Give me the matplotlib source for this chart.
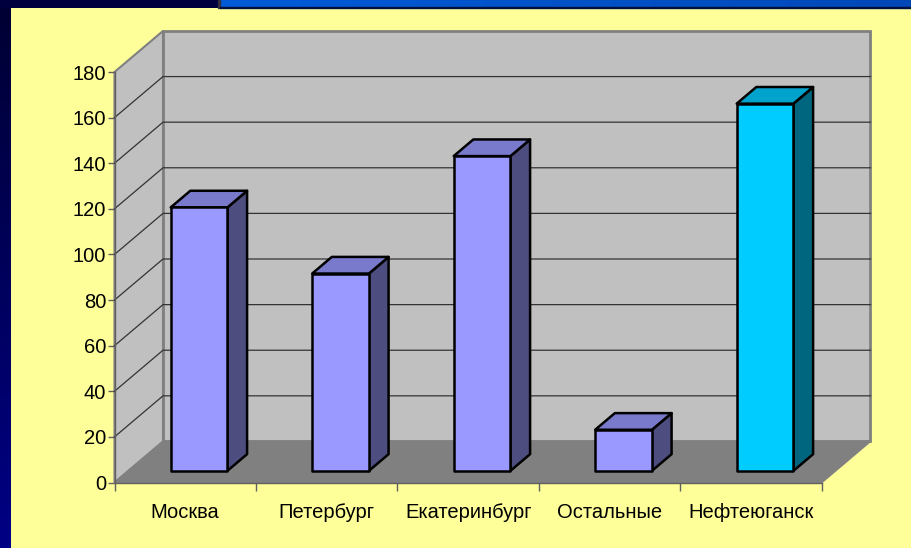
import numpy as np
import matplotlib.pyplot as plt
from matplotlib.patches import Polygon, Rectangle

plt.rcParams['font.family'] = ['Liberation Sans', 'DejaVu Sans']

cities = ['Москва', 'Петербург', 'Екатеринбург', 'Остальные', 'Нефтеюганск']
values = [115.5, 86.5, 138, 18, 161]
yticks = [0, 20, 40, 60, 80, 100, 120, 140, 160, 180]

front = ['#9999FF', '#9999FF', '#9999FF', '#9999FF', '#00CCFF']
top = ['#7A7ACC', '#7A7ACC', '#7A7ACC', '#7A7ACC', '#00A3CC']
side = ['#4D4D80', '#4D4D80', '#4D4D80', '#4D4D80', '#006680']

W, H = 911, 548
fig = plt.figure(figsize=(W / 100, H / 100), dpi=100, facecolor='#FFFF99')

# slide background behind the yellow panel
bg = fig.add_axes([0, 0, 1, 1], zorder=0)
bg.axis('off')
grad = np.linspace(0, 1, 256).reshape(-1, 1)
navy = np.dstack([0 * grad, 0 * grad, (0.2 + 0.32 * grad)])
bg.imshow(navy, extent=[0, 11, H, 0], aspect='auto')
bg.imshow(np.array([[[0, 0, 0.25]]]), extent=[0, 219, 8, 0], aspect='auto')
blue = np.linspace(0, 1, 256).reshape(1, -1)
blue = np.dstack([0 * blue, 0.36 - 0.08 * blue, 0.85 - 0.13 * blue])
bg.imshow(blue, extent=[220, W, 7, 0], aspect='auto')
bg.add_patch(Rectangle((218, 0), 2, 8, color='#303040'))
bg.add_patch(Rectangle((220, 7), W - 220, 1, color='#001040'))
bg.set_xlim(0, W)
bg.set_ylim(H, 0)

ax = fig.add_axes([114.5 / W, (H - 482.5) / H, 707.5 / W, 410.5 / H], zorder=1)
ax.patch.set_alpha(0)
ax.set_xlim(0, 5)
ax.set_ylim(0, 180)

# depth of the 3D box, in data units
dx = 48.5 / 141.5
dy = 18.0


def shift(x, y, d):
    return (x + dx * d, y + dy * d)


def poly(pts, **kw):
    p = Polygon(pts, clip_on=False, **kw)
    ax.add_patch(p)


wall = '#C0C0C0'
edge = '#808080'
poly([(0, 0), (0, 180), shift(0, 180, 1), shift(0, 0, 1)], fc=wall, ec=edge, lw=1.5, zorder=1)
poly([shift(0, 0, 1), shift(0, 180, 1), shift(5, 180, 1), shift(5, 0, 1)], fc=wall, ec=edge, lw=2, zorder=1)
poly([(0, 0), (5, 0), shift(5, 0, 1), shift(0, 0, 1)], fc='#808080', ec='#808080', lw=1, zorder=2)

for v in yticks[1:-1]:
    a = shift(0, v, 0)
    b = shift(0, v, 1)
    c = shift(5, v, 1)
    ax.plot([a[0], b[0], c[0]], [a[1], b[1], c[1]], color='#333333', lw=0.9, zorder=2, clip_on=False)

# bars, front face at depth d0, back at d1
d0, d1 = 0.285, 0.69
bw = 0.401
for i, v in enumerate(values):
    x0 = i + 0.5 - bw / 2
    x1 = i + 0.5 + bw / 2
    kw = dict(ec='black', lw=1.8, joinstyle='round', zorder=3)
    poly([shift(x1, 0, d0), shift(x1, 0, d1), shift(x1, v, d1), shift(x1, v, d0)], fc=side[i], **kw)
    poly([shift(x0, v, d0), shift(x1, v, d0), shift(x1, v, d1), shift(x0, v, d1)], fc=top[i], **kw)
    poly([shift(x0, 0, d0), shift(x1, 0, d0), shift(x1, v, d0), shift(x0, v, d0)], fc=front[i], **kw)

for s in ['top', 'right']:
    ax.spines[s].set_visible(False)
for s in ['left', 'bottom']:
    ax.spines[s].set_color('#606060')
    ax.spines[s].set_linewidth(1)
    ax.spines[s].set_zorder(4)

ax.set_yticks(yticks)
ax.tick_params(axis='y', length=5, width=1, color='#606060', labelsize=14.5, pad=1)
ax.set_xticks(range(6))
ax.set_xticklabels([])
ax.tick_params(axis='x', which='major', length=6, width=1, color='#606060')
ax.set_xticks(np.arange(5) + 0.5, minor=True)
ax.set_xticklabels(cities, minor=True, va='baseline')
ax.tick_params(axis='x', which='minor', length=0, labelsize=14.5, pad=25.5)

fig.savefig('out.png', dpi=100, facecolor=fig.get_facecolor())
